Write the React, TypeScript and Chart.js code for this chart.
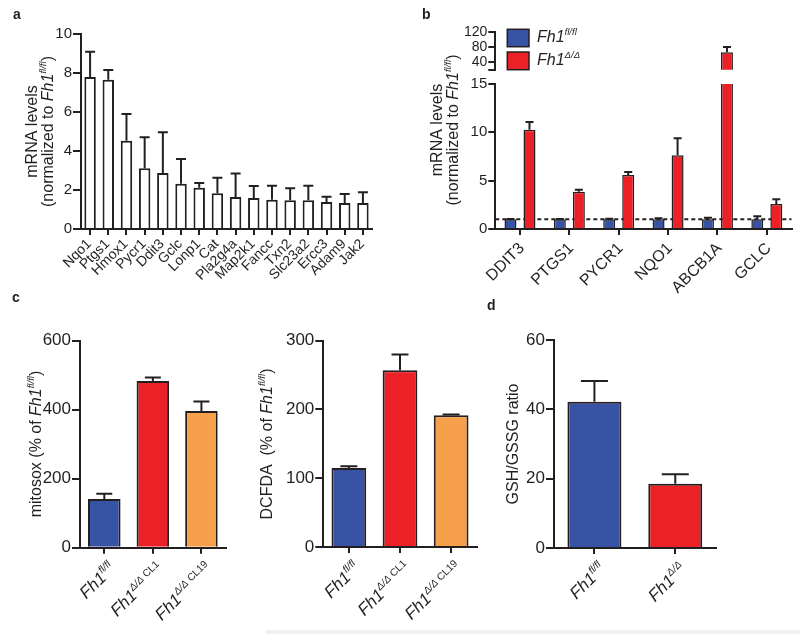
import React, { useEffect, useRef } from "react";
import { Chart, registerables } from "chart.js";

Chart.register(...registerables);

const W = 800;
const H = 634;
const FONT = '"Liberation Sans", Arial, Helvetica, sans-serif';
const INK = "#231f20";
const BLUE = "#3953a4";
const RED = "#ec2027";
const ORANGE = "#f7a04b";
const WHITE = "#ffffff";

// ---------- Panel a ----------
const aGenes = ["Nqo1", "Ptgs1", "Hmox1", "Pycr1", "Ddit3", "Gclc", "Lonp1", "Cat", "Pla2g4a", "Map2k1", "Fancc", "Txn2", "Slc23a2", "Ercc3", "Adam9", "Jak2"];
const aMeans = [7.8, 7.65, 4.53, 3.11, 2.87, 2.32, 2.12, 1.83, 1.64, 1.59, 1.5, 1.47, 1.47, 1.38, 1.33, 1.33];
const aErrors = [1.29, 0.51, 1.37, 1.59, 2.09, 1.27, 0.24, 0.8, 1.2, 0.61, 0.72, 0.62, 0.75, 0.28, 0.46, 0.55];
const aTicks = [0, 2, 4, 6, 8, 10];

// ---------- Panel b ----------
const bGenes = ["DDIT3", "PTGS1", "PYCR1", "NQO1", "ABCB1A", "GCLC"];
const bFlMeans = [1, 1, 1, 1, 1, 1];
const bFlErrors = [0.03, 0.03, 0.06, 0.1, 0.17, 0.31];
const bDeltaMeans = [10.27, 3.86, 5.58, 7.62, 66.7, 2.59];
const bDeltaErrors = [0.8, 0.21, 0.32, 1.76, 14.1, 0.48];
const bLowTicks = [0, 5, 10, 15];
const bHighTicks = [20, 40, 80, 120];

// ---------- Panel c ----------
const cGenotypes = ["fl/fl", "Δ/Δ", "Δ/Δ"];
const cClones = ["", "CL1", "CL19"];
const cMitosox = [141, 483, 396];
const cMitosoxErr = [15.5, 10, 28];
const cMitosoxTicks = [0, 200, 400, 600];
const cDcfda = [115, 257, 191.5];
const cDcfdaErr = [2.5, 23, 1];
const cDcfdaTicks = [0, 100, 200, 300];
const cColors = [BLUE, RED, ORANGE];

// ---------- Panel d ----------
const dGenotypes = ["fl/fl", "Δ/Δ"];
const dRatio = [42.2, 18.5];
const dErr = [6, 2.8];
const dTicks = [0, 20, 40, 60];
const dColors = [BLUE, RED];

type Seg = { t: string; i?: boolean; s?: boolean; b?: boolean };

function segFont(s: Seg, size: number) {
  const sz = s.s ? Math.round(size * 0.6 * 10) / 10 : size;
  return `${s.i ? "italic " : ""}${s.b ? "bold " : ""}${sz}px ${FONT}`;
}

function drawRich(ctx: CanvasRenderingContext2D, segs: Seg[], x: number, y: number, angle: number, size: number, align: "left" | "center" | "right") {
  const rise = size * 0.42;
  ctx.save();
  ctx.translate(x, y);
  ctx.rotate(angle);
  ctx.textAlign = "left";
  ctx.textBaseline = "alphabetic";
  ctx.fillStyle = INK;
  const widths = segs.map((s) => {
    ctx.font = segFont(s, size);
    return ctx.measureText(s.t).width;
  });
  const total = widths.reduce((a, b) => a + b, 0);
  let cx = align === "right" ? -total : align === "center" ? -total / 2 : 0;
  segs.forEach((s, k) => {
    ctx.font = segFont(s, size);
    ctx.fillText(s.t, cx, s.s ? -rise : 0);
    cx += widths[k];
  });
  ctx.restore();
}

function fh1(sup: string, extra?: string): Seg[] {
  const segs: Seg[] = [{ t: "Fh1", i: true }, { t: sup, i: true, s: true }];
  if (extra) segs.push({ t: " " + extra, s: true });
  return segs;
}

function letter(ctx: CanvasRenderingContext2D, t: string, x: number, y: number) {
  ctx.save();
  ctx.font = `bold 14px ${FONT}`;
  ctx.fillStyle = INK;
  ctx.textAlign = "left";
  ctx.textBaseline = "alphabetic";
  ctx.fillText(t, x, y);
  ctx.restore();
}

function drawXLabels(chart: any, list: Seg[][], size: number, dx: number, dy: number) {
  const xs = chart.scales.x;
  const yb = chart.chartArea.bottom;
  list.forEach((segs, i) => {
    drawRich(chart.ctx, segs, xs.getPixelForTick(i) + dx, yb + dy, -Math.PI / 4, size, "right");
  });
}

type Area = { l: number; t: number; r: number; b: number };
type Series = { data: number[]; errors: number[]; fill: string | string[]; borderWidth: number };
type Spec = {
  area: Area;
  labels: string[];
  series: Series[];
  yMin: number;
  yMax: number;
  yTicks: number[];
  yHide?: number[];
  yFont: number;
  yTickLen: number;
  yTickPad: number;
  barPct: number;
  catPct: number;
  cap: number;
  xTickLen: number;
  showX: boolean;
  before?: (chart: any, ctx: CanvasRenderingContext2D) => void;
  draw?: (chart: any, ctx: CanvasRenderingContext2D) => void;
};

const LEFT_PAD = 2;

function buildChart(canvas: HTMLCanvasElement, p: Spec) {
  const plugin = {
    id: "panelExtras",
    beforeDatasetsDraw(chart: any) {
      if (p.before) p.before(chart, chart.ctx);
    },
    afterDatasetsDraw(chart: any) {
      const ctx = chart.ctx as CanvasRenderingContext2D;
      const ca = chart.chartArea;
      const ys = chart.scales.y;
      ctx.save();
      ctx.beginPath();
      ctx.rect(ca.left - 30, ca.top - 1.5, ca.right - ca.left + 60, ca.bottom - ca.top + 1.5);
      ctx.clip();
      ctx.strokeStyle = INK;
      ctx.lineWidth = 2;
      p.series.forEach((s, i) => {
        const meta = chart.getDatasetMeta(i);
        meta.data.forEach((el: any, j: number) => {
          const e = s.errors[j];
          if (!e) return;
          const v = s.data[j];
          const x = el.x;
          const y0 = ys.getPixelForValue(v);
          const y1 = ys.getPixelForValue(v + e);
          ctx.beginPath();
          ctx.moveTo(x, y0);
          ctx.lineTo(x, y1);
          ctx.moveTo(x - p.cap / 2, y1);
          ctx.lineTo(x + p.cap / 2, y1);
          ctx.stroke();
        });
      });
      ctx.restore();
    },
    afterDraw(chart: any) {
      if (p.draw) p.draw(chart, chart.ctx);
    },
  };

  const gridBase = {
    display: true,
    drawOnChartArea: false,
    drawTicks: true,
    color: INK,
    tickColor: INK,
    lineWidth: 2,
    tickWidth: 2,
  };

  return new Chart(canvas, {
    type: "bar",
    data: {
      labels: p.labels,
      datasets: p.series.map((s) => ({
        data: s.data,
        backgroundColor: s.fill,
        borderColor: INK,
        borderWidth: s.borderWidth,
        barPercentage: p.barPct,
        categoryPercentage: p.catPct,
      })),
    },
    options: {
      responsive: false,
      animation: false,
      devicePixelRatio: 1,
      events: [],
      layout: { padding: { left: LEFT_PAD, top: p.area.t, right: W - p.area.r, bottom: H - p.area.b } },
      plugins: { legend: { display: false }, tooltip: { enabled: false }, title: { display: false } },
      scales: {
        x: {
          type: "category",
          offset: true,
          grid: { ...gridBase, display: p.showX, offset: false, tickLength: p.xTickLen },
          border: { display: p.showX, color: INK, width: 2 },
          ticks: { display: false, autoSkip: false },
          afterFit: (s: any) => {
            s.height = 0;
          },
        },
        y: {
          type: "linear",
          min: p.yMin,
          max: p.yMax,
          afterBuildTicks: (s: any) => {
            s.ticks = p.yTicks.map((v) => ({ value: v }));
          },
          grid: { ...gridBase, tickLength: p.yTickLen },
          border: { display: true, color: INK, width: 2 },
          ticks: {
            display: true,
            autoSkip: false,
            color: INK,
            padding: p.yTickPad,
            font: { family: FONT, size: p.yFont },
            callback: (v: any) => (p.yHide && p.yHide.includes(Number(v)) ? "" : String(v)),
          },
          afterFit: (s: any) => {
            s.width = p.area.l - LEFT_PAD;
          },
        },
      },
    } as any,
    plugins: [plugin as any],
  });
}

const specA: Spec = {
  area: { l: 81, t: 34, r: 372, b: 229 },
  labels: aGenes,
  series: [{ data: aMeans, errors: aErrors, fill: WHITE, borderWidth: 2 }],
  yMin: 0,
  yMax: 10,
  yTicks: aTicks,
  yFont: 15,
  yTickLen: 8,
  yTickPad: 1,
  barPct: 0.63,
  catPct: 1,
  cap: 10,
  xTickLen: 6,
  showX: true,
  draw: (chart, ctx) => {
    drawXLabels(chart, aGenes.map((g) => [{ t: g }]), 14, 2, 15.5);
    drawRich(ctx, [{ t: "mRNA levels" }], 37, 131.5, -Math.PI / 2, 16, "center");
    drawRich(ctx, [{ t: "(normalized to " }, ...fh1("fl/fl"), { t: ")" }], 53, 131.5, -Math.PI / 2, 16, "center");
    letter(ctx, "a", 13, 19);
    letter(ctx, "c", 12, 302);
  },
};

const bArea = { l: 495.3, r: 791.5 };

const specBTop: Spec = {
  area: { l: bArea.l, t: 32.3, r: bArea.r, b: 69.7 },
  labels: bGenes,
  series: [
    { data: bFlMeans, errors: bFlErrors, fill: BLUE, borderWidth: 1.5 },
    { data: bDeltaMeans, errors: bDeltaErrors, fill: RED, borderWidth: 1.5 },
  ],
  yMin: 20,
  yMax: 120,
  yTicks: bHighTicks,
  yHide: [20],
  yFont: 14,
  yTickLen: 7,
  yTickPad: 1,
  barPct: 0.63,
  catPct: 0.77,
  cap: 8,
  xTickLen: 0,
  showX: false,
  draw: (chart, ctx) => {
    ctx.save();
    ctx.lineWidth = 1.5;
    ctx.strokeStyle = INK;
    ctx.fillStyle = BLUE;
    ctx.fillRect(507.3, 29.3, 21.7, 17.4);
    ctx.strokeRect(507.3, 29.3, 21.7, 17.4);
    ctx.fillStyle = RED;
    ctx.fillRect(507.3, 52, 21.7, 17.7);
    ctx.strokeRect(507.3, 52, 21.7, 17.7);
    ctx.restore();
    drawRich(ctx, fh1("fl/fl"), 537, 41.7, 0, 16, "left");
    drawRich(ctx, fh1("Δ/Δ"), 537, 65, 0, 16, "left");
    letter(ctx, "b", 422, 19);
  },
};

const specBBottom: Spec = {
  area: { l: bArea.l, t: 84, r: bArea.r, b: 229 },
  labels: bGenes,
  series: [
    { data: bFlMeans, errors: bFlErrors, fill: BLUE, borderWidth: 1.5 },
    { data: bDeltaMeans, errors: bDeltaErrors, fill: RED, borderWidth: 1.5 },
  ],
  yMin: 0,
  yMax: 15,
  yTicks: bLowTicks,
  yFont: 15,
  yTickLen: 7,
  yTickPad: 1,
  barPct: 0.63,
  catPct: 0.77,
  cap: 8,
  xTickLen: 6,
  showX: true,
  before: (chart, ctx) => {
    const ca = chart.chartArea;
    const y = chart.scales.y.getPixelForValue(1);
    ctx.save();
    ctx.strokeStyle = INK;
    ctx.lineWidth = 2;
    ctx.setLineDash([4, 3]);
    ctx.beginPath();
    ctx.moveTo(ca.left, y);
    ctx.lineTo(ca.right, y);
    ctx.stroke();
    ctx.restore();
  },
  draw: (chart, ctx) => {
    drawXLabels(chart, bGenes.map((g) => [{ t: g }]), 16, 5, 20);
    drawRich(ctx, [{ t: "mRNA levels" }], 442, 130, -Math.PI / 2, 16, "center");
    drawRich(ctx, [{ t: "(normalized to " }, ...fh1("fl/fl"), { t: ")" }], 458, 130, -Math.PI / 2, 16, "center");
    letter(ctx, "d", 487, 310);
  },
};

const cLabels = cGenotypes.map((g, i) => (cClones[i] ? `Fh1 ${g} ${cClones[i]}` : `Fh1 ${g}`));
const cRich = cGenotypes.map((g, i) => fh1(g, cClones[i] || undefined));

const specC1: Spec = {
  area: { l: 80, t: 340.7, r: 225.7, b: 547.7 },
  labels: cLabels,
  series: [{ data: cMitosox, errors: cMitosoxErr, fill: cColors, borderWidth: 2 }],
  yMin: 0,
  yMax: 600,
  yTicks: cMitosoxTicks,
  yFont: 17,
  yTickLen: 8,
  yTickPad: 1,
  barPct: 0.67,
  catPct: 1,
  cap: 16,
  xTickLen: 6,
  showX: true,
  draw: (chart, ctx) => {
    drawXLabels(chart, cRich, 17, 12, 22);
    drawRich(ctx, [{ t: "mitosox (% of " }, ...fh1("fl/fl"), { t: ")" }], 41, 444, -Math.PI / 2, 16, "center");
  },
};

const specC2: Spec = {
  area: { l: 323.3, t: 340.7, r: 476.7, b: 547 },
  labels: cLabels,
  series: [{ data: cDcfda, errors: cDcfdaErr, fill: cColors, borderWidth: 2 }],
  yMin: 0,
  yMax: 300,
  yTicks: cDcfdaTicks,
  yFont: 17,
  yTickLen: 8,
  yTickPad: 1,
  barPct: 0.68,
  catPct: 1,
  cap: 17,
  xTickLen: 6,
  showX: true,
  draw: (chart, ctx) => {
    drawXLabels(chart, cRich, 17, 12, 22);
    drawRich(ctx, [{ t: "DCFDA  (% of " }, ...fh1("fl/fl"), { t: ")" }], 272, 444, -Math.PI / 2, 16, "center");
  },
};

const dLabels = dGenotypes.map((g) => `Fh1 ${g}`);
const dRich = dGenotypes.map((g) => fh1(g));

const specD: Spec = {
  area: { l: 554, t: 340, r: 715.7, b: 548 },
  labels: dLabels,
  series: [{ data: dRatio, errors: dErr, fill: dColors, borderWidth: 2 }],
  yMin: 0,
  yMax: 60,
  yTicks: dTicks,
  yFont: 17,
  yTickLen: 8,
  yTickPad: 1,
  barPct: 0.668,
  catPct: 1,
  cap: 27,
  xTickLen: 6,
  showX: true,
  draw: (chart, ctx) => {
    drawXLabels(chart, dRich, 17, 12, 22);
    drawRich(ctx, [{ t: "GSH/GSSG ratio" }], 518, 444, -Math.PI / 2, 16, "center");
    ctx.save();
    ctx.fillStyle = "#f1f1f1";
    ctx.fillRect(266, 630, W - 266, 4);
    ctx.restore();
  },
};

const SPECS = [specA, specBTop, specBBottom, specC1, specC2, specD];

export default function App() {
  const r0 = useRef<HTMLCanvasElement>(null);
  const r1 = useRef<HTMLCanvasElement>(null);
  const r2 = useRef<HTMLCanvasElement>(null);
  const r3 = useRef<HTMLCanvasElement>(null);
  const r4 = useRef<HTMLCanvasElement>(null);
  const r5 = useRef<HTMLCanvasElement>(null);
  const refs = [r0, r1, r2, r3, r4, r5];

  useEffect(() => {
    const charts = SPECS.map((s, i) => buildChart(refs[i].current as HTMLCanvasElement, s));
    return () => charts.forEach((c) => c.destroy());
  }, []);

  return (
    <div style={{ position: "absolute", left: 0, top: 0, width: W, height: H, background: "#ffffff", overflow: "hidden" }}>
      {refs.map((r, i) => (
        <canvas key={i} ref={r} width={W} height={H} style={{ position: "absolute", left: 0, top: 0, width: W, height: H }} />
      ))}
    </div>
  );
}
